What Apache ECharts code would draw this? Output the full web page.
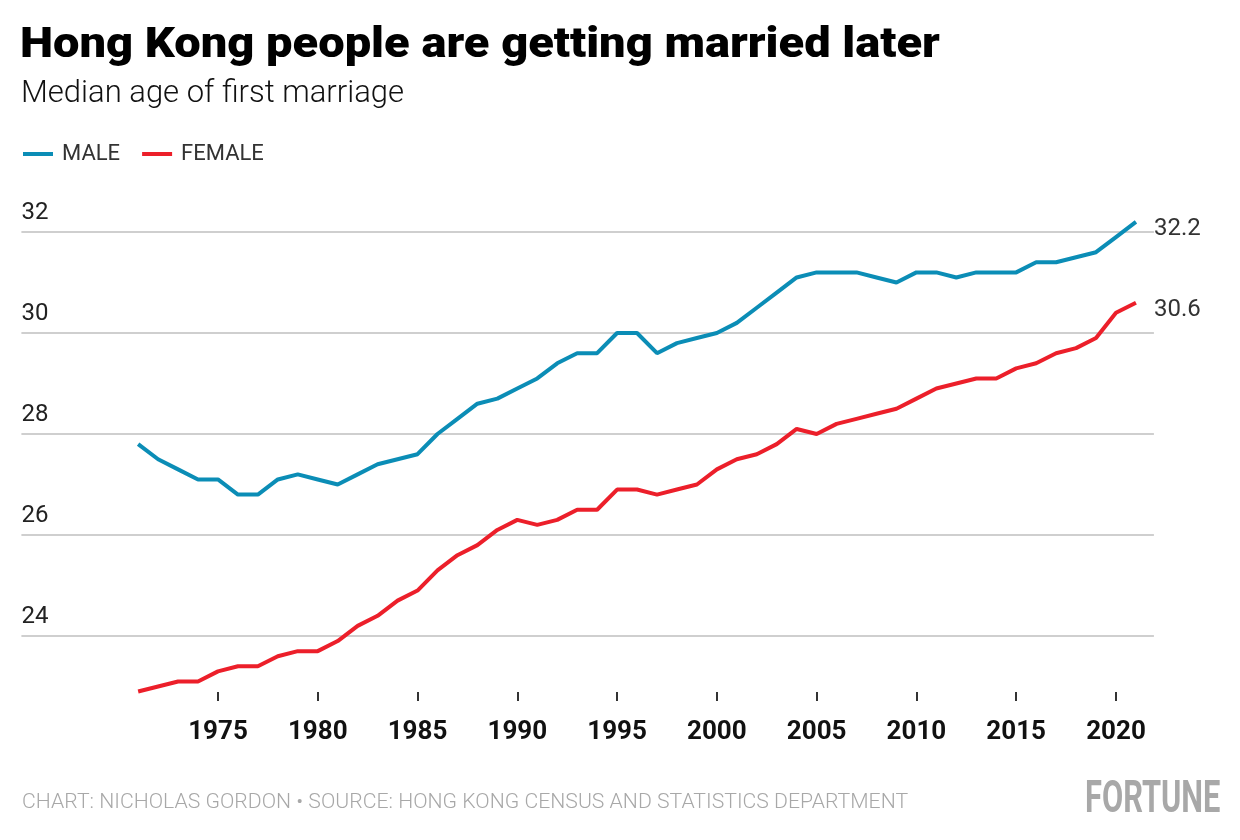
<!DOCTYPE html>
<html>
<head>
<meta charset="utf-8">
<script src="https://cdn.jsdelivr.net/npm/echarts@6/dist/echarts.min.js"></script>
<style>
html,body{margin:0;padding:0;background:#fff;}
#chart{width:1240px;height:840px;}
</style>
</head>
<body>
<div id="chart"></div>
<script>
const years = [1971,1972,1973,1974,1975,1976,1977,1978,1979,1980,1981,1982,1983,1984,1985,1986,1987,1988,1989,1990,1991,1992,1993,1994,1995,1996,1997,1998,1999,2000,2001,2002,2003,2004,2005,2006,2007,2008,2009,2010,2011,2012,2013,2014,2015,2016,2017,2018,2019,2020,2021];
const male = [27.8,27.5,27.3,27.1,27.1,26.8,26.8,27.1,27.2,27.1,27.0,27.2,27.4,27.5,27.6,28.0,28.3,28.6,28.7,28.9,29.1,29.4,29.6,29.6,30.0,30.0,29.6,29.8,29.9,30.0,30.2,30.5,30.8,31.1,31.2,31.2,31.2,31.1,31.0,31.2,31.2,31.1,31.2,31.2,31.2,31.4,31.4,31.5,31.6,31.9,32.2];
const female = [22.9,23.0,23.1,23.1,23.3,23.4,23.4,23.6,23.7,23.7,23.9,24.2,24.4,24.7,24.9,25.3,25.6,25.8,26.1,26.3,26.2,26.3,26.5,26.5,26.9,26.9,26.8,26.9,27.0,27.3,27.5,27.6,27.8,28.1,28.0,28.2,28.3,28.4,28.5,28.7,28.9,29.0,29.1,29.1,29.3,29.4,29.6,29.7,29.9,30.4,30.6];
const xTicks = [1975,1980,1985,1990,1995,2000,2005,2010,2015,2020];
const yTicks = [24,26,28,30,32];

const titleText = 'Hong Kong people are getting married later';
const subtitleText = 'Median age of first marriage';
const footerText = 'CHART: NICHOLAS GORDON \u2022 SOURCE: HONG KONG CENSUS AND STATISTICS DEPARTMENT';
const brandText = 'FORTUNE';

const BLUE = '#0b8db6';
const RED = '#ec1f2a';
const FONT = "Roboto, sans-serif";

const chart = echarts.init(document.getElementById('chart'), null, {renderer: 'canvas'});
const option = {
  backgroundColor: '#fff',
  animation: false,
  legend: {
    left: 18, top: 138,
    itemWidth: 30, itemHeight: 4, itemGap: 22,
    icon: 'rect',
    textStyle: {fontFamily: FONT, fontSize: 22, color: '#333', padding: [0,0,0,4]},
    data: ['MALE','FEMALE']
  },
  grid: {left: 21.4, right: 86.1, top: 232, bottom: 204, containLabel: false},
  xAxis: {
    type: 'value', min: 1965.15, max: 2021.9,
    offset: 56,
    axisLine: {show: false},
    splitLine: {show: false},
    axisTick: {show: true, customValues: xTicks, length: 9, lineStyle: {color: '#333', width: 2}},
    axisLabel: {customValues: xTicks, margin: 27, fontFamily: FONT, fontWeight: 'bold', fontSize: 26, color: '#111', formatter: v => String(v)}
  },
  yAxis: {
    type: 'value', min: 24, max: 32, interval: 2,
    axisLine: {show: false}, axisTick: {show: false},
    splitLine: {show: true, lineStyle: {color: '#cfcfcf', width: 2}},
    axisLabel: {inside: true, margin: 0, align: 'left', verticalAlign: 'bottom', padding: [0,0,7,0], fontFamily: FONT, fontSize: 24, color: '#222'}
  },
  series: [
    {
      name: 'MALE', type: 'line', clip: false, showSymbol: false,
      data: years.map((y,i) => [y, male[i]]),
      lineStyle: {color: BLUE, width: 4}, itemStyle: {color: BLUE},
      endLabel: {show: true, distance: 18, offset: [0, 7], formatter: p => p.value[1].toFixed(1), fontFamily: FONT, fontSize: 24, color: '#333'}
    },
    {
      name: 'FEMALE', type: 'line', clip: false, showSymbol: false,
      data: years.map((y,i) => [y, female[i]]),
      lineStyle: {color: RED, width: 4}, itemStyle: {color: RED},
      endLabel: {show: true, distance: 18, offset: [0, 7], formatter: p => p.value[1].toFixed(1), fontFamily: FONT, fontSize: 24, color: '#333'}
    }
  ],
  graphic: [
    {type: 'text', x: 20, y: 25, scaleX: 1.12, style: {text: titleText, font: "900 42px Roboto", fill: '#000', verticalAlign: 'top'}},
    {type: 'text', x: 21, y: 79, style: {text: subtitleText, font: "300 31px Roboto", fill: '#111', verticalAlign: 'top'}},
    {type: 'text', x: 22, y: 792, scaleX: 1.01, style: {text: footerText, font: "300 21px Roboto", fill: '#a8a8a8', verticalAlign: 'top'}},
    {type: 'text', x: 1085, y: 779, scaleX: 0.70, style: {text: brandText, font: "bold 44px Roboto", fill: '#a8a8a8', verticalAlign: 'top'}}
  ]
};
chart.setOption(option);
</script>
</body>
</html>
